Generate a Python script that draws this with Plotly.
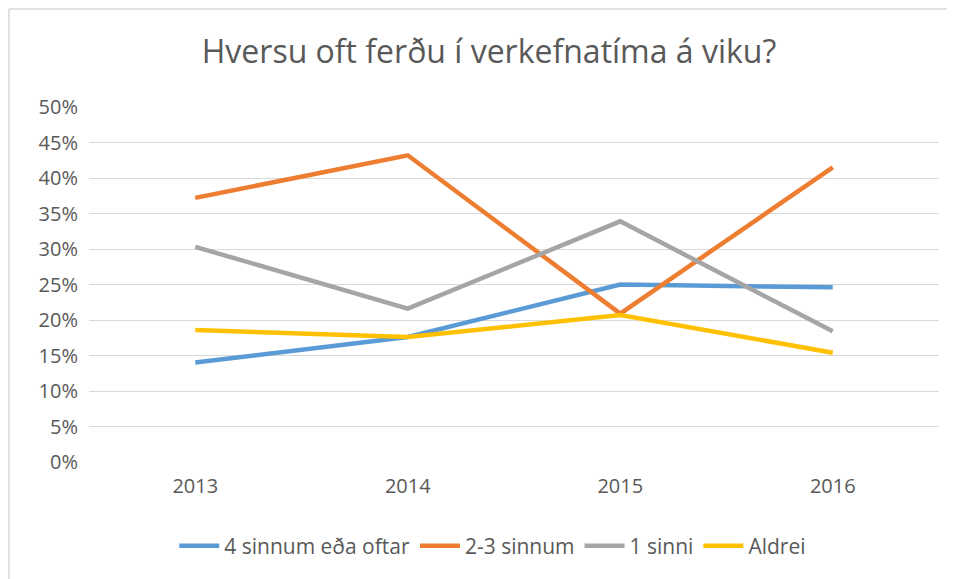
import plotly.graph_objects as go

years = ["2013", "2014", "2015", "2016"]
series_names = ["4 sinnum eða oftar", "2-3 sinnum", "1 sinni", "Aldrei"]
four_plus = [0.140, 0.176, 0.250, 0.246]
two_three = [0.372, 0.432, 0.209, 0.415]
once = [0.303, 0.216, 0.339, 0.184]
never = [0.186, 0.176, 0.207, 0.154]
y_ticks = [0, 0.05, 0.10, 0.15, 0.20, 0.25, 0.30, 0.35, 0.40, 0.45, 0.50]

colors = ["#5B9BD5", "#ED7D31", "#A5A5A5", "#FFC000"]
values = [four_plus, two_three, once, never]

FONT = "Open Sans, Lato, sans-serif"
TXT = "#595959"

W, H = 947, 571
L, T, PW, PH = 81, 99, 850, 355

fig = go.Figure()
for name, vals, col in zip(series_names, values, colors):
    fig.add_trace(go.Scatter(
        x=years, y=vals, name=name, mode="lines",
        line=dict(color=col, width=4.5),
    ))

fig.update_layout(
    width=W, height=H,
    margin=dict(l=L, r=W - L - PW, t=T, b=H - T - PH),
    paper_bgcolor="white", plot_bgcolor="white",
    font=dict(family=FONT, color=TXT, size=20),
    title=dict(
        text="Hversu oft ferðu í verkefnatíma á viku?",
        x=481/W, xanchor="center", xref="container",
        y=1-44/H, yanchor="middle", yref="container",
        font=dict(family=FONT, size=32, color=TXT),
    ),
    xaxis=dict(
        type="category", range=[-0.5, 3.5],
        showgrid=False, showline=False, zeroline=False,
        ticks="", tickfont=dict(size=20, color=TXT),
        ticklabelstandoff=10,
    ),
    yaxis=dict(
        range=[0, 0.5], tickvals=y_ticks, tickformat=".0%",
        showgrid=True, gridcolor="#D9D9D9", gridwidth=1.3,
        zeroline=False, showline=False, ticks="",
        tickfont=dict(size=20, color=TXT),
        ticklabelstandoff=10,
    ),
    legend=dict(
        orientation="h", x=0.475, xanchor="center",
        y=(T + PH - 538)/PH, yanchor="middle",
        font=dict(size=21, color=TXT), itemwidth=40,
        traceorder="normal",
    ),
    showlegend=True,
)

# chart-area border: only the top and left edges are visible in the reference
x_left = (1 - L) / PW
y_top = (T + PH - 1) / PH
fig.add_shape(type="line", xref="paper", yref="paper",
              x0=x_left, x1=(W + 40 - L) / PW, y0=y_top, y1=y_top,
              line=dict(color="#D9D9D9", width=1.5), layer="below")
fig.add_shape(type="line", xref="paper", yref="paper",
              x0=x_left, x1=x_left, y0=y_top, y1=(T + PH - H - 40) / PH,
              line=dict(color="#D9D9D9", width=1.5), layer="below")

fig.write_html("out.html")
